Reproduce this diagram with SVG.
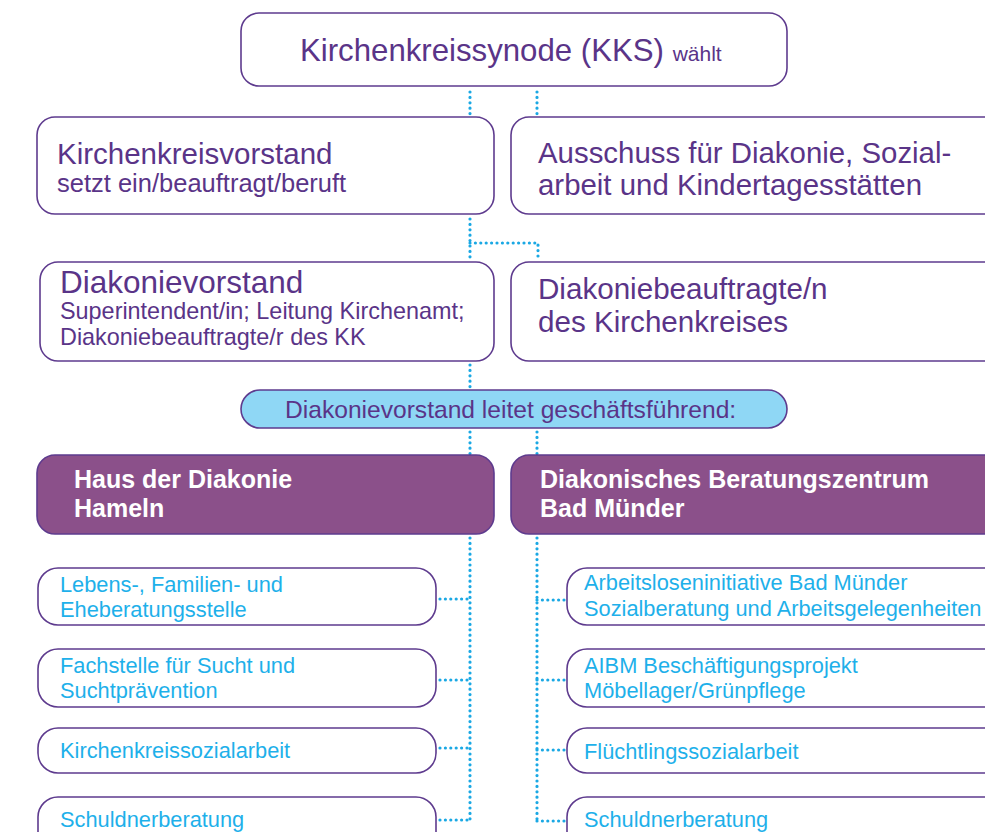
<svg xmlns="http://www.w3.org/2000/svg" width="985" height="832" viewBox="0 0 985 832">
<style>
.box{fill:#fff;stroke:#5e3b8e;stroke-width:1.6}
.head{fill:#8b508a;stroke:#5e3b8e;stroke-width:1.6}
.pill{fill:#8fd7f5;stroke:#5e3b8e;stroke-width:1.6}
.t{font-family:"Liberation Sans",Arial,sans-serif;fill:#5a3488}
.w{font-family:"Liberation Sans",Arial,sans-serif;fill:#fff;font-weight:bold;font-size:25px}
.b{font-family:"Liberation Sans",Arial,sans-serif;fill:#1eb0ea;font-size:21.8px}
.dot{fill:none;stroke:#1aa8e4;stroke-width:3.2;stroke-linecap:round;stroke-dasharray:0 5.4}
</style>
<g id="connectors">
<path class="dot" d="M470 92V116"/>
<path class="dot" d="M537 92V116"/>
<path class="dot" d="M470 219V261"/>
<path class="dot" d="M470 243H538V261"/>
<path class="dot" d="M470 365V389"/>
<path class="dot" d="M470 432V454"/>
<path class="dot" d="M537 432V454"/>
<path class="dot" d="M470 538V822"/>
<path class="dot" d="M537 538V822"/>
<path class="dot" d="M440 599H470"/>
<path class="dot" d="M440 680H470"/>
<path class="dot" d="M440 748H470"/>
<path class="dot" d="M440 820H470"/>
<path class="dot" d="M537 600H565"/>
<path class="dot" d="M537 680H565"/>
<path class="dot" d="M537 750H565"/>
<path class="dot" d="M537 821H565"/>
</g>
<g id="kks">
<rect class="box" x="241" y="13" width="546" height="73" rx="18"/>
<text class="t" x="300" y="61" font-size="31.2">Kirchenkreissynode (KKS) <tspan font-size="21">wählt</tspan></text>
</g>
<g id="kkv">
<rect class="box" x="37" y="117" width="457" height="97" rx="18"/>
<text class="t" x="57" y="164" font-size="29.5">Kirchenkreisvorstand</text>
<text class="t" x="57" y="192" font-size="25.5">setzt ein/beauftragt/beruft</text>
</g>
<g id="ausschuss">
<rect class="box" x="511" y="117" width="494" height="97" rx="18"/>
<text class="t" x="538" y="163" font-size="29.4">Ausschuss für Diakonie, Sozial-</text>
<text class="t" x="538" y="195" font-size="29.4">arbeit und Kindertagesstätten</text>
</g>
<g id="diakonievorstand">
<rect class="box" x="40" y="262" width="454" height="99" rx="18"/>
<text class="t" x="60" y="293" font-size="31.5">Diakonievorstand</text>
<text class="t" x="60" y="319" font-size="23.4">Superintendent/in; Leitung Kirchenamt;</text>
<text class="t" x="60" y="345" font-size="23.4">Diakoniebeauftragte/r des KK</text>
</g>
<g id="diakoniebeauftragte">
<rect class="box" x="511" y="262" width="494" height="99" rx="18"/>
<text class="t" x="538" y="299" font-size="29.6">Diakoniebeauftragte/n</text>
<text class="t" x="538" y="332" font-size="29.6">des Kirchenkreises</text>
</g>
<g id="leitet">
<rect class="pill" x="241" y="390" width="546" height="38" rx="19"/>
<text class="t" x="285" y="418" font-size="24.6">Diakonievorstand leitet geschäftsführend:</text>
</g>
<g id="hausderdiakonie">
<rect class="head" x="37" y="455" width="457" height="79" rx="18"/>
<text class="w" x="74" y="488">Haus der Diakonie</text>
<text class="w" x="74" y="517">Hameln</text>
</g>
<g id="beratungszentrum">
<rect class="head" x="511" y="455" width="494" height="79" rx="18"/>
<text class="w" x="540" y="488">Diakonisches Beratungszentrum</text>
<text class="w" x="540" y="517">Bad Münder</text>
</g>
<g id="l1">
<rect class="box" x="38" y="568" width="398" height="57" rx="20"/>
<text class="b" x="60" y="592">Lebens-, Familien- und</text>
<text class="b" x="60" y="617">Eheberatungsstelle</text>
</g>
<g id="l2">
<rect class="box" x="38" y="649" width="398" height="58" rx="20"/>
<text class="b" x="60" y="673">Fachstelle für Sucht und</text>
<text class="b" x="60" y="698">Suchtprävention</text>
</g>
<g id="l3">
<rect class="box" x="38" y="728" width="398" height="45" rx="20"/>
<text class="b" x="60" y="758">Kirchenkreissozialarbeit</text>
</g>
<g id="l4">
<rect class="box" x="38" y="797" width="398" height="58" rx="20"/>
<text class="b" x="60" y="827">Schuldnerberatung</text>
</g>
<g id="r1">
<rect class="box" x="567" y="568" width="440" height="57" rx="20"/>
<text class="b" x="584" y="590">Arbeitsloseninitiative Bad Münder</text>
<text class="b" x="584" y="616">Sozialberatung und Arbeitsgelegenheiten</text>
</g>
<g id="r2">
<rect class="box" x="567" y="649" width="440" height="58" rx="20"/>
<text class="b" x="584" y="673">AIBM Beschäftigungsprojekt</text>
<text class="b" x="584" y="698">Möbellager/Grünpflege</text>
</g>
<g id="r3">
<rect class="box" x="567" y="728" width="440" height="45" rx="20"/>
<text class="b" x="584" y="759">Flüchtlingssozialarbeit</text>
</g>
<g id="r4">
<rect class="box" x="567" y="797" width="440" height="58" rx="20"/>
<text class="b" x="584" y="827">Schuldnerberatung</text>
</g>
</svg>
